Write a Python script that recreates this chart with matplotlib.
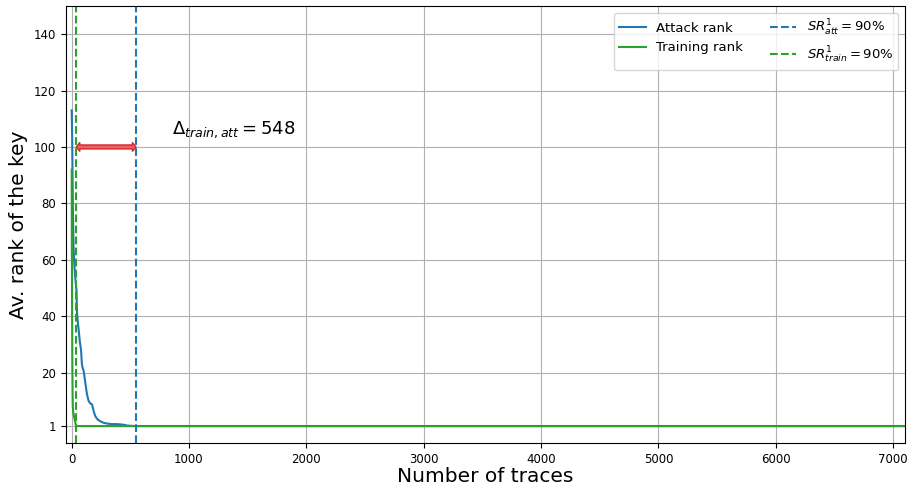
import matplotlib
matplotlib.use("Agg")
import matplotlib.pyplot as plt
from matplotlib.patches import Polygon

# Average key rank vs. number of traces (attack and training sets)
attack_traces = [1, 3, 5, 8, 12, 17, 25, 35, 42, 46, 55, 60, 70, 80, 88, 95, 103,
                 110, 117, 130, 145, 160, 174, 190, 202, 220, 245, 270, 301, 340,
                 380, 415, 440, 472, 500, 548, 7100]
attack_rank = [113, 108, 103, 90, 75, 64, 57, 52, 49, 41, 37, 35.3, 31, 28.2, 22.9,
               21.5, 20.5, 18.5, 16.4, 12.5, 9.9, 9.0, 8.7, 6.0, 4.5, 3.4, 2.7, 2.2,
               1.9, 1.7, 1.7, 1.6, 1.5, 1.2, 1.1, 1.0, 1.0]

train_traces = [1, 2, 4, 6, 8, 10, 14, 20, 28, 35, 40, 7100]
train_rank = [92, 70, 45, 25, 14, 8, 6, 4.5, 3.0, 1.5, 1.0, 1.0]

sr_train = 40     # traces for 90% success rate, training set
sr_att = 548      # traces for 90% success rate, attack set
delta_train_att = 548
arrow_level = 100

xticks = [0, 1000, 2000, 3000, 4000, 5000, 6000, 7000]
yticks = [1, 20, 40, 60, 80, 100, 120, 140]

fig = plt.figure(figsize=(9.09, 4.86), dpi=100)
ax = fig.add_axes([0.0723, 0.0885, 0.9233, 0.8992])

ax.plot(attack_traces, attack_rank, color="tab:blue", lw=1.5, label="Attack rank")
ax.plot(train_traces, train_rank, color="tab:green", lw=1.5, label="Training rank")
ax.axvline(sr_att, color="tab:blue", ls="--", lw=1.5, label=r"$SR^1_{att} = 90\%$")
ax.axvline(sr_train, color="tab:green", ls="--", lw=1.5, label=r"$SR^1_{train} = 90\%$")

# double-headed arrow between the two 90% success-rate points
hl, hw, bw = 30, 1.6, 0.7
y = arrow_level
outline = [(sr_train, y), (sr_train + hl, y + hw), (sr_train + hl, y + bw),
           (sr_att - hl, y + bw), (sr_att - hl, y + hw), (sr_att, y),
           (sr_att - hl, y - hw), (sr_att - hl, y - bw), (sr_train + hl, y - bw),
           (sr_train + hl, y - hw)]
ax.add_patch(Polygon(outline, closed=True, facecolor="#e66465",
                     edgecolor="#d62728", lw=1.0, zorder=5))
ax.text(857, 106, r"$\Delta_{train, att} = %d$" % delta_train_att,
        fontsize=13, va="center", ha="left")

ax.set_xlim(-50, 7100)
ax.set_ylim(-5, 150)
ax.set_xticks(xticks)
ax.set_yticks(yticks)
ax.tick_params(labelsize=8.5)
ax.grid(True, color="#b0b0b0", lw=0.8)
ax.set_xlabel("Number of traces", fontsize=14.5, labelpad=1)
ax.set_ylabel("Av. rank of the key", fontsize=14.5)
ax.legend(loc="upper right", ncol=2, fontsize=9.5)

fig.savefig("out.png", dpi=100)
